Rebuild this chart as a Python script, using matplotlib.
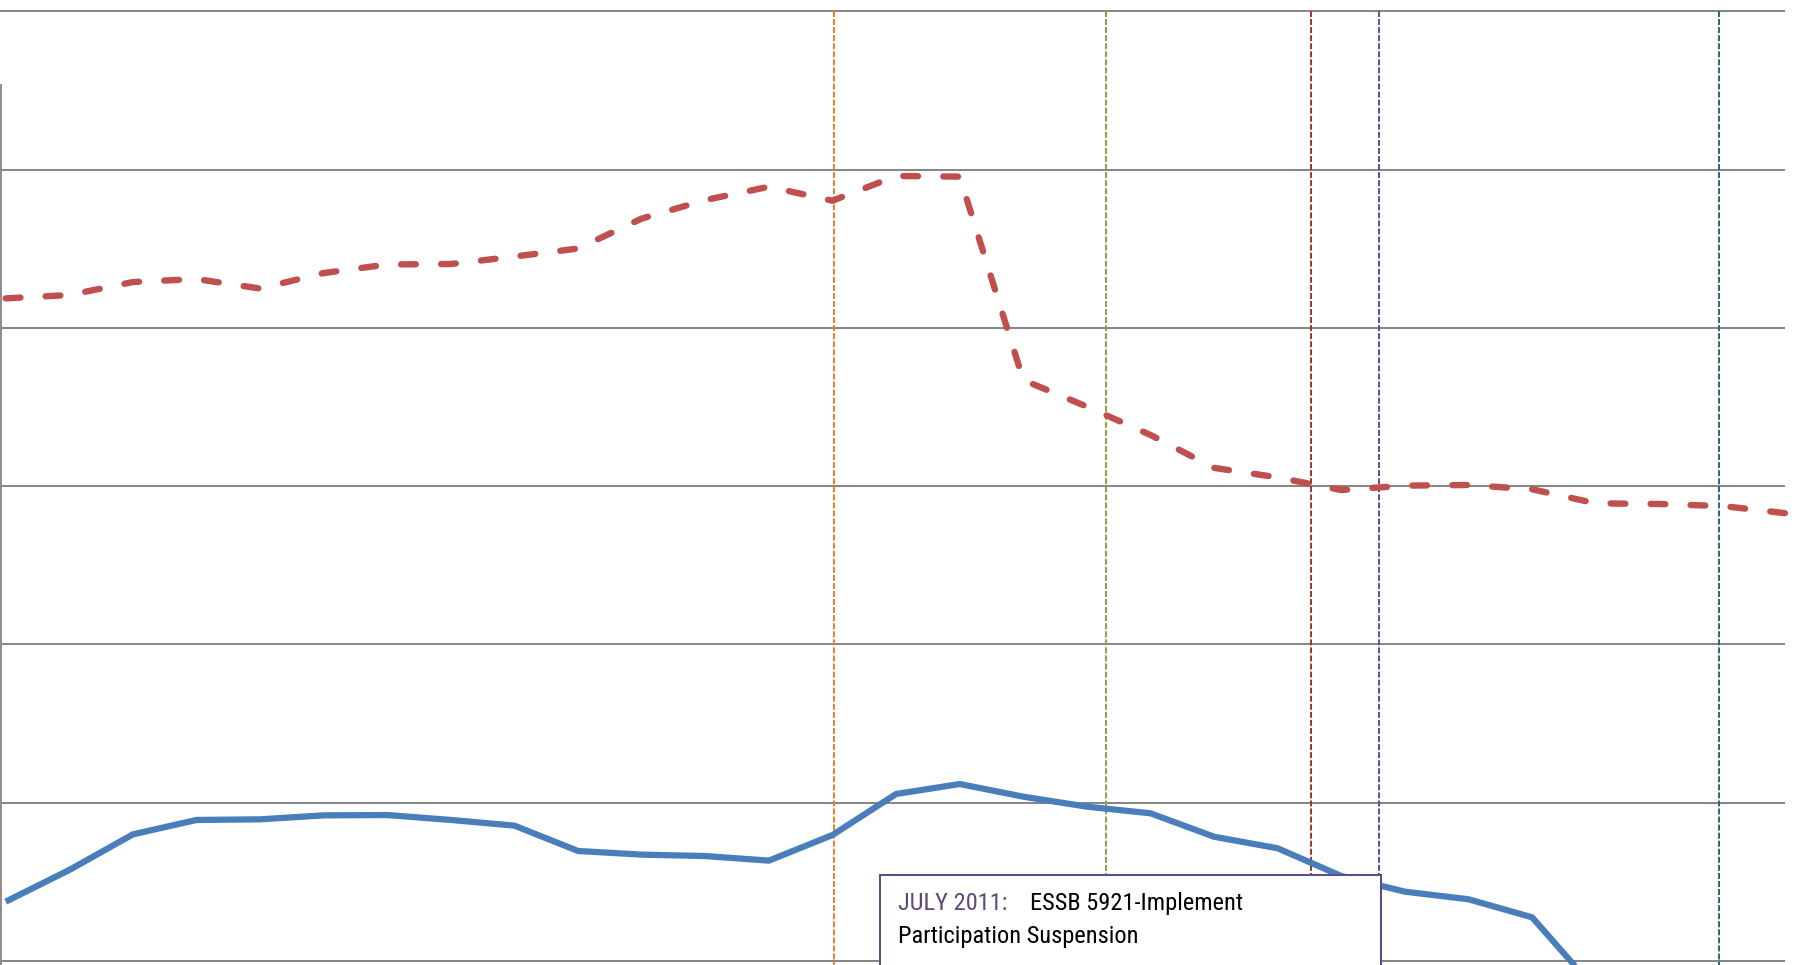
import matplotlib
matplotlib.use("Agg")
import matplotlib.pyplot as plt
from matplotlib.patches import Rectangle

plt.rcParams['lines.scale_dashes'] = False

# ---- data (index = period number, values in gridline units) ----
periods_red = list(range(29))
red_values = [4.186, 4.207, 4.289, 4.308, 4.248, 4.346, 4.400, 4.403, 4.450, 4.501,
              4.690, 4.807, 4.891, 4.803, 4.959, 4.955, 3.670, 3.502, 3.323, 3.115,
              3.055, 2.975, 3.003, 3.007, 2.980, 2.891, 2.887, 2.874, 2.828]

periods_blue = list(range(26))
blue_values = [0.375, 0.575, 0.800, 0.891, 0.895, 0.920, 0.922, 0.891, 0.855, 0.695,
               0.672, 0.663, 0.634, 0.796, 1.055, 1.118, 1.038, 0.975, 0.933, 0.785,
               0.712, 0.537, 0.438, 0.390, 0.276, -0.180]

grid_levels = [0, 1, 2, 3, 4, 5, 6]

event_positions = [13.03, 17.30, 20.52, 21.59, 26.94]
event_colors = ['#F0821E', '#86A64A', '#9B3B39', '#65528A', '#2C6B7C']

annot_label = "JULY 2011:"
annot_line1 = "ESSB 5921-Implement"
annot_line2 = "Participation Suspension"

# ---- figure ----
W, H, DPI = 1796, 965, 100
fig = plt.figure(figsize=(W / DPI, H / DPI), dpi=DPI)
ax = fig.add_axes([0, 0, 1, 1])
ax.set_axis_off()

x0_px, dx_px = 5.7, 63.6
base_px, dy_px = 961.0, 158.3
def xd(px):
    return (px - x0_px) / dx_px
def yd(py):
    return (base_px - py) / dy_px

ax.set_xlim(xd(0), xd(W))
ax.set_ylim(yd(H), yd(0))

# gridlines
for g in grid_levels:
    ax.plot([xd(0), xd(1785)], [g, g], color='#878787', lw=1.45, zorder=1,
            solid_capstyle='butt')

# left axis line (partial)
ax.plot([xd(1.5), xd(1.5)], [yd(85), yd(H + 5)], color='#8E8E8E', lw=1.45, zorder=1)

# event vertical dashed lines
for xp, c in zip(event_positions, event_colors):
    ax.plot([xp, xp], [yd(11), yd(H + 5)], color=c, lw=1.45,
            linestyle=(0, (4.3, 1.5)), dash_capstyle='butt', zorder=2)

# series
ax.plot(periods_blue, blue_values, color='#4A7EBB', lw=4.5, zorder=3,
        solid_joinstyle='round', solid_capstyle='butt')
ax.plot(periods_red, red_values, color='#C0504D', lw=4.6, zorder=3,
        linestyle=(0, (10.6, 18.2)), dash_capstyle='round', dash_joinstyle='round')

# annotation box
bx0, bx1 = xd(880), xd(1381)
btop = yd(875)
ax.add_patch(Rectangle((bx0, yd(H + 50)), bx1 - bx0, btop - yd(H + 50),
                       facecolor='white', edgecolor='#5F4B8B', lw=1.45, zorder=5))

fam = ['Liberation Sans Narrow', 'Roboto Condensed', 'DejaVu Sans']
fs0 = 17.5
t_lab = ax.text(xd(898), yd(910), annot_label, color='#5F497A', fontsize=fs0,
                family=fam, stretch='condensed', va='baseline', ha='left', zorder=6)
t_l1 = ax.text(xd(1030), yd(910), annot_line1, color='#000000', fontsize=fs0,
               family=fam, stretch='condensed', va='baseline', ha='left', zorder=6)
t_l2 = ax.text(xd(898), yd(943), annot_line2, color='#000000', fontsize=fs0,
               family=fam, stretch='condensed', va='baseline', ha='left', zorder=6)

# fit text size so the second line spans the same width as in the reference (~240 px)
fig.canvas.draw()
r = fig.canvas.get_renderer()
w2 = t_l2.get_window_extent(r).width
fs = fs0 * 240.0 / w2
fs = max(min(fs, 19.0), 13.0)
for t in (t_lab, t_l1, t_l2):
    t.set_fontsize(fs)

fig.savefig('out.png', dpi=DPI, facecolor='white')
